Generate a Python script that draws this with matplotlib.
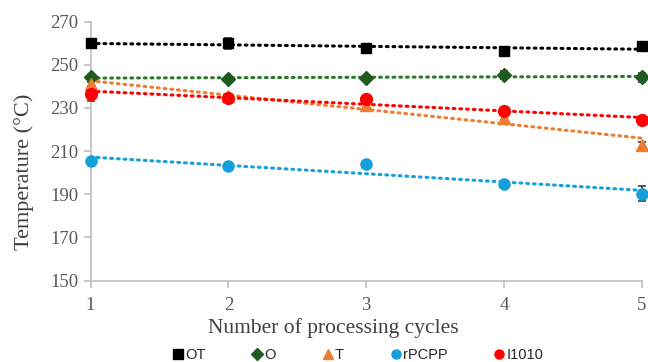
import numpy as np
import matplotlib
matplotlib.use('Agg')
import matplotlib.pyplot as plt
from matplotlib.lines import Line2D

# данные
cycles = [1, 2, 3, 4, 5]
names = ['OT', 'O', 'T', 'rPCPP', 'I1010']
ot = [260.0, 260.0, 257.7, 256.3, 258.5]
o = [244.3, 243.2, 243.9, 245.3, 244.2]
t = [241.0, 235.5, 231.5, 225.5, 212.8]
rpcpp = [205.4, 203.1, 204.0, 194.8, 190.3]
i1010 = [236.5, 234.8, 234.2, 228.4, 224.4]

ot_err = [2.0, 2.5, 1.0, 1.0, 1.0]
o_err = [1.0, 1.0, 1.0, 2.0, 2.0]
t_err = [1.0, 1.0, 1.0, 1.0, 1.5]
rpcpp_err = [1.0, 1.0, 1.0, 1.0, 3.5]
i1010_err = [3.5, 1.0, 1.0, 1.0, 1.0]

series = [ot, o, t, rpcpp, i1010]
errors = [ot_err, o_err, t_err, rpcpp_err, i1010_err]
colors = ['#000000', '#1E5B1E', '#ED7D31', '#16A0DB', '#FF0000']
line_colors = ['#000000', '#2A7A2A', '#ED7D31', '#16A0DB', '#FF0000']
markers = ['s', 'D', '^', 'o', 'o']
msizes = [7.5, 7.5, 8, 8, 8.5]

grey = '#595959'
serif = ['Liberation Serif', 'DejaVu Serif']

fig = plt.figure(figsize=(6.48, 3.62), dpi=100)
ax = fig.add_axes([0.1397, 0.2246, 0.851, 0.716])

x = np.array(cycles, dtype=float)
xx = np.linspace(1, 5, 50)

# линии тренда
for y, lc in zip(series, line_colors):
    k, b = np.polyfit(x, y, 1)
    ax.plot(xx, k*xx + b, color=lc, lw=2.2, ls=(0, (0.6, 1.6)),
            dash_capstyle='round', zorder=2)

# точки с погрешностями
for y, e, c, m, ms in zip(series, errors, colors, markers, msizes):
    cont = ax.errorbar(x, y, yerr=e, fmt=m, color=c, ms=ms, mec=c,
                       ecolor='#404040', elinewidth=1.2, capsize=3,
                       capthick=1.2, zorder=3)
    for art in cont.get_children():
        art.set_clip_on(False)

ax.set_xlim(1, 5)
ax.set_ylim(150, 270)
ax.set_xticks(cycles)
ax.set_yticks(np.arange(150, 271, 20))

for s in ['top', 'right']:
    ax.spines[s].set_visible(False)
for s in ['left', 'bottom']:
    ax.spines[s].set_color('#BFBFBF')
    ax.spines[s].set_linewidth(1.2)
ax.tick_params(axis='both', colors='#BFBFBF', length=5, width=1.2,
               labelcolor=grey, labelsize=13.5)
ax.tick_params(axis='x', pad=7)
for lbl in ax.get_xticklabels() + ax.get_yticklabels():
    lbl.set_family(serif)

ax.set_xlabel('Number of processing cycles', family=serif, fontsize=15.5,
              color='#404040')
ax.xaxis.set_label_coords(0.44, -0.145)
ax.set_ylabel('Temperature (°C)', family=serif, fontsize=16,
              color='#404040')
ax.yaxis.set_label_coords(-0.103, 0.42)

handles = [Line2D([], [], ls='', marker=m, color=c, ms=6.5)
           for m, c in zip(markers, colors)]
fig.legend(handles, names, loc='center', bbox_to_anchor=(0.551, 0.02),
           ncol=5, frameon=False, handletextpad=0.0, columnspacing=3.05,
           borderpad=0.1,
           prop={'family': ['Liberation Sans', 'DejaVu Sans'], 'size': 10.5},
           labelcolor='#262626', handlelength=1)

fig.savefig('out.png', dpi=100)
